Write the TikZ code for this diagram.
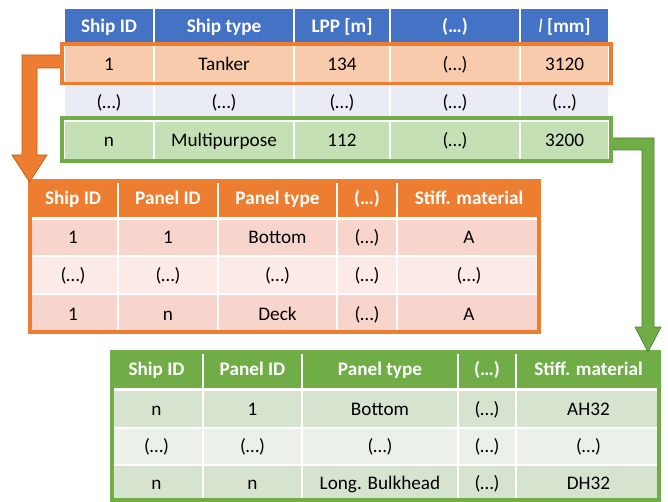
\documentclass[tikz,border=0pt]{standalone}
\usepackage{fontspec}
\setmainfont{Carlito}
\usetikzlibrary{calc}
\definecolor{hblue}{HTML}{4472C4}
\definecolor{orng}{HTML}{ED7D31}
\definecolor{odark}{HTML}{C55A11}
\definecolor{grn}{HTML}{70AD47}
\definecolor{gdark}{HTML}{507E32}
\definecolor{orow}{HTML}{F8CBAD}
\definecolor{mrow}{HTML}{E9EBF5}
\definecolor{grow}{HTML}{C5E0B4}
\definecolor{oband}{HTML}{F8D5CC}
\definecolor{olight}{HTML}{FBEAE6}
\definecolor{gband}{HTML}{D5E3CF}
\definecolor{glight}{HTML}{EBF1E9}
\newcommand\mkcell[7]{\node[cellbox, fill=#6, minimum width={#3-#2}, minimum height={#5-#4}] (#1) at ({(#2+#3)/2},{(#4+#5)/2}) {#7};}
\newcommand\hd[1]{\textcolor{white}{\bfseries #1}}
\begin{document}
\begin{tikzpicture}[x=1pt,y=-1pt,
  cellbox/.style={draw=white, line width=1.5pt, inner sep=0pt, text height=12.2pt, text depth=0pt,
    font=\fontsize{19.2}{22}\selectfont, text=black},
  rowframe/.style={line width=3.5pt, inner sep=0pt},
  tabframe/.style={line width=4pt, inner sep=0pt},
  oarrow/.style={fill=orng, draw=odark, line width=0.7pt, line join=miter},
  garrow/.style={fill=grn, draw=gdark, line width=0.7pt, line join=miter}]
\useasboundingbox (0,0) rectangle (668,502);

% ---------- top table ----------
\mkcell{a11}{64}{154}{8}{44}{hblue}{\hd{Ship ID}}
\mkcell{a12}{154}{294}{8}{44}{hblue}{\hd{Ship type}}
\mkcell{a13}{294}{390}{8}{44}{hblue}{\hd{LPP [m]}}
\mkcell{a14}{390}{520}{8}{44}{hblue}{\hd{(…)}}
\mkcell{a15}{520}{609}{8}{44}{hblue}{\hd{{\normalfont\itshape l} [mm]}}
\mkcell{a21}{64}{154}{44}{84}{orow}{1}
\mkcell{a22}{154}{294}{44}{84}{orow}{Tanker}
\mkcell{a23}{294}{390}{44}{84}{orow}{134}
\mkcell{a24}{390}{520}{44}{84}{orow}{(…)}
\mkcell{a25}{520}{609}{44}{84}{orow}{3120}
\mkcell{a31}{64}{154}{84}{121}{mrow}{(…)}
\mkcell{a32}{154}{294}{84}{121}{mrow}{(…)}
\mkcell{a33}{294}{390}{84}{121}{mrow}{(…)}
\mkcell{a34}{390}{520}{84}{121}{mrow}{(…)}
\mkcell{a35}{520}{609}{84}{121}{mrow}{(…)}
\mkcell{a41}{64}{154}{121}{160}{grow}{n}
\mkcell{a42}{154}{294}{121}{160}{grow}{Multipurpose}
\mkcell{a43}{294}{390}{121}{160}{grow}{112}
\mkcell{a44}{390}{520}{121}{160}{grow}{(…)}
\mkcell{a45}{520}{609}{121}{160}{grow}{3200}

% ---------- orange table ----------
\mkcell{b11}{28}{118}{179}{218}{orng}{\hd{Ship ID}}
\mkcell{b12}{118}{218}{179}{218}{orng}{\hd{Panel ID}}
\mkcell{b13}{218}{337}{179}{218}{orng}{\hd{Panel type}}
\mkcell{b14}{337}{397}{179}{218}{orng}{\hd{(…)}}
\mkcell{b15}{397}{541}{179}{218}{orng}{\hd{Stiff. material}}
\mkcell{b21}{28}{118}{219.5}{256}{oband}{1}
\mkcell{b22}{118}{218}{219.5}{256}{oband}{1}
\mkcell{b23}{218}{337}{219.5}{256}{oband}{Bottom}
\mkcell{b24}{337}{397}{219.5}{256}{oband}{(…)}
\mkcell{b25}{397}{541}{219.5}{256}{oband}{A}
\mkcell{b31}{28}{118}{256}{294}{olight}{(…)}
\mkcell{b32}{118}{218}{256}{294}{olight}{(…)}
\mkcell{b33}{218}{337}{256}{294}{olight}{(…)}
\mkcell{b34}{337}{397}{256}{294}{olight}{(…)}
\mkcell{b35}{397}{541}{256}{294}{olight}{(…)}
\mkcell{b41}{28}{118}{294}{334}{oband}{1}
\mkcell{b42}{118}{218}{294}{334}{oband}{n}
\mkcell{b43}{218}{337}{294}{334}{oband}{Deck}
\mkcell{b44}{337}{397}{294}{334}{oband}{(…)}
\mkcell{b45}{397}{541}{294}{334}{oband}{A}
\node[tabframe, draw=orng, minimum width=509, minimum height=151] (t2) at (284.5,256.5) {};

% ---------- green table ----------
\mkcell{c11}{110}{203}{350}{389}{grn}{\hd{Ship ID}}
\mkcell{c12}{203}{302}{350}{389}{grn}{\hd{Panel ID}}
\mkcell{c13}{302}{458}{350}{389}{grn}{\hd{Panel type}}
\mkcell{c14}{458}{516}{350}{389}{grn}{\hd{(…)}}
\mkcell{c15}{516}{661}{350}{389}{grn}{\hd{Stiff. material}}
\mkcell{c21}{110}{203}{390.5}{428}{gband}{n}
\mkcell{c22}{203}{302}{390.5}{428}{gband}{1}
\mkcell{c23}{302}{458}{390.5}{428}{gband}{Bottom}
\mkcell{c24}{458}{516}{390.5}{428}{gband}{(…)}
\mkcell{c25}{516}{661}{390.5}{428}{gband}{AH32}
\mkcell{c31}{110}{203}{428}{465}{glight}{(…)}
\mkcell{c32}{203}{302}{428}{465}{glight}{(…)}
\mkcell{c33}{302}{458}{428}{465}{glight}{(…)}
\mkcell{c34}{458}{516}{428}{465}{glight}{(…)}
\mkcell{c35}{516}{661}{428}{465}{glight}{(…)}
\mkcell{c41}{110}{203}{465}{502}{gband}{n}
\mkcell{c42}{203}{302}{465}{502}{gband}{n}
\mkcell{c43}{302}{458}{465}{502}{gband}{Long. Bulkhead}
\mkcell{c44}{458}{516}{465}{502}{gband}{(…)}
\mkcell{c45}{516}{661}{465}{502}{gband}{DH32}
\node[tabframe, draw=grn, minimum width=547, minimum height=148] (t3) at (385.5,426) {};

% ---------- row frames (positions) ----------
\node[rowframe, minimum width=545.5, minimum height=36] (orowf) at (336.5,63.75) {};
\node[rowframe, minimum width=545.5, minimum height=39.5] (growf) at (336.5,139.5) {};

% ---------- block arrows ----------
\path[oarrow] ($(orowf.west)+(0,-8.75)$) -- ++(-40,0) -- ++(0,100) -- ++(-10,0)
  -- ++(17.5,27) -- ++(17.5,-27) -- ++(-10,0) -- ++(0,-87) -- ++(25,0) -- cycle;
\path[garrow] ($(growf.east)+(0,-1.5)$) -- ++(43,0) -- ++(0,189) -- ++(7,0)
  -- ++(-13,25) -- ++(-13,-25) -- ++(7,0) -- ++(0,-177) -- ++(-31,0) -- cycle;

% ---------- highlighted row outlines ----------
\draw[orng, line width=3.5pt] (orowf.north west) rectangle (orowf.south east);
\draw[grn, line width=3.5pt] (growf.north west) rectangle (growf.south east);
\end{tikzpicture}
\end{document}
